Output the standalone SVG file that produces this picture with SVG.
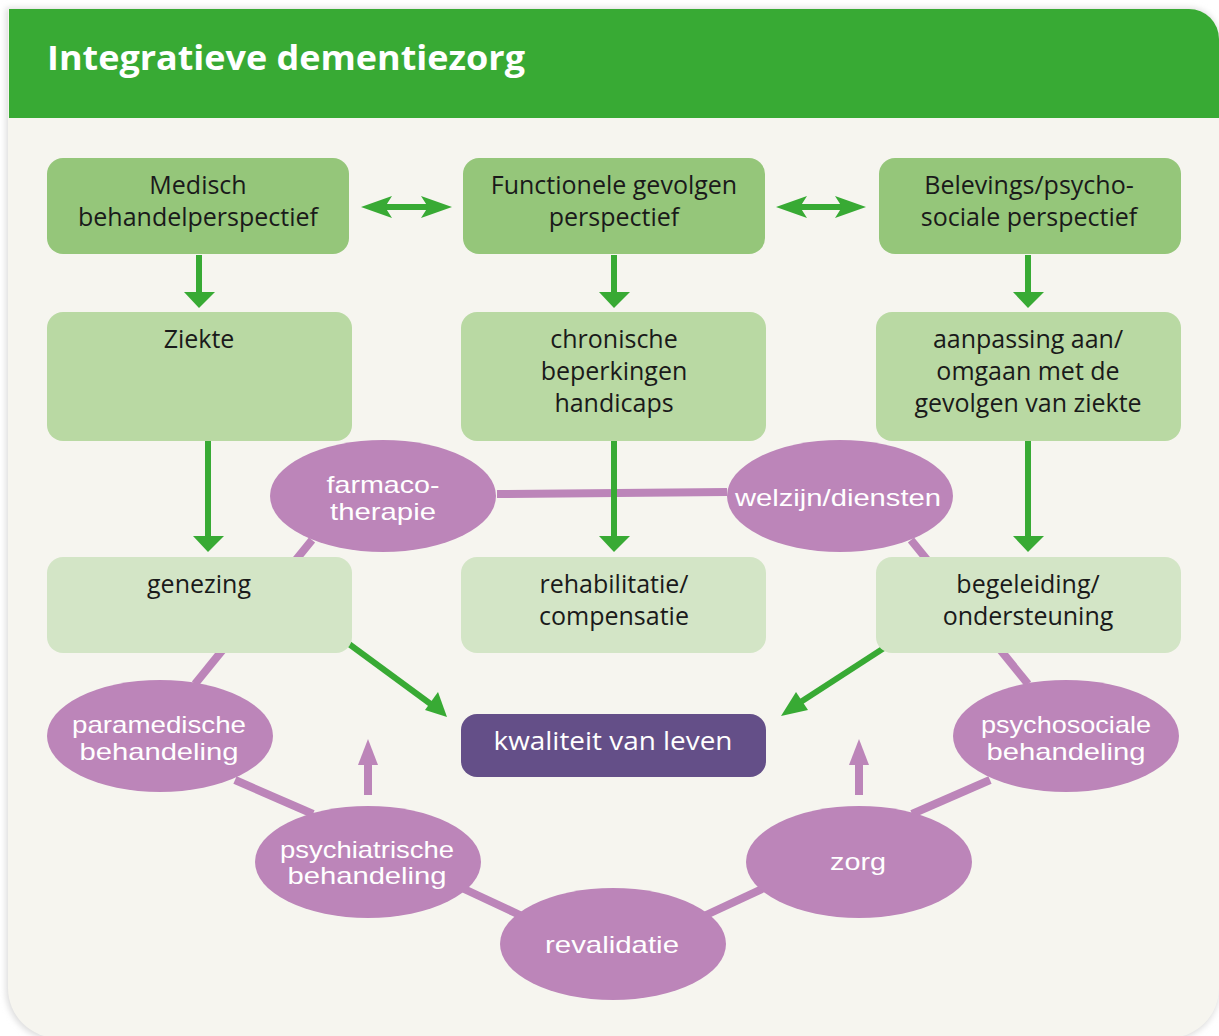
<svg xmlns="http://www.w3.org/2000/svg" width="1219" height="1036" viewBox="0 0 1219 1036">
<defs>
<style>
.b1{fill:#95c67a}
.b2{fill:#b9d9a3}
.b3{fill:#d3e5c6}
.el{fill:#bc85b9}
.bt{font-family:"Open Sans","Noto Sans",sans-serif;font-size:25px;fill:#1a1a1a;text-anchor:middle}
.et{font-family:"Liberation Sans",Arial,sans-serif;font-size:24px;fill:#ffffff;text-anchor:middle}
.kt{font-family:"Open Sans","Noto Sans",sans-serif;font-size:25px;fill:#ffffff;text-anchor:middle}
.pl{stroke:#bc85b9;stroke-width:8;fill:none}
.gs{stroke:#38aa34;stroke-width:6;fill:none}
.gh{fill:#38aa34}
.ph{fill:#bc85b9}
</style>
<filter id="sh" x="-5%" y="-5%" width="110%" height="110%">
<feGaussianBlur stdDeviation="3"/>
</filter>
</defs>
<rect x="0" y="0" width="1219" height="1036" fill="#ffffff"/>
<path d="M6,8 H1189 A30,30 0 0 1 1219,38 V990 A50,50 0 0 1 1169,1040 H58 A50,50 0 0 1 6,990 Z" fill="#dcdcdc" filter="url(#sh)"/>
<path d="M8,9 H1189 A30,30 0 0 1 1219,39 V988 A50,50 0 0 1 1169,1038 H58 A50,50 0 0 1 8,988 Z" fill="#f6f5ef"/>
<path d="M9,9 H1189 A30,30 0 0 1 1219,39 V118 H9 Z" fill="#38aa34"/>
<text x="47" y="70" font-family="'Open Sans','Noto Sans',sans-serif" font-size="34" font-weight="bold" fill="#ffffff" textLength="478" lengthAdjust="spacingAndGlyphs">Integratieve dementiezorg</text>

<g id="connectors">
<line class="pl" x1="497" y1="494" x2="727" y2="492"/>
<line class="pl" x1="312" y1="540" x2="195" y2="684"/>
<line class="pl" x1="911" y1="540" x2="1028" y2="684"/>
<line class="pl" x1="235" y1="780" x2="313" y2="814"/>
<line class="pl" x1="462" y1="888" x2="522" y2="916"/>
<line class="pl" x1="704" y1="916" x2="764" y2="888"/>
<line class="pl" x1="912" y1="814" x2="990" y2="780"/>
<line class="pl" x1="368" y1="795" x2="368" y2="760"/>
<polygon class="ph" points="368,739 358,765 378,765"/>
<line class="pl" x1="859" y1="795" x2="859" y2="760"/>
<polygon class="ph" points="859,739 849,765 869,765"/>

<line class="gs" x1="199" y1="255" x2="199" y2="294"/>
<polygon class="gh" points="184,292 215,292 199,308"/>
<line class="gs" x1="614" y1="255" x2="614" y2="294"/>
<polygon class="gh" points="599,292 630,292 614,308"/>
<line class="gs" x1="1028" y1="255" x2="1028" y2="294"/>
<polygon class="gh" points="1013,292 1044,292 1028,308"/>
<line class="gs" x1="208" y1="441" x2="208" y2="538"/>
<polygon class="gh" points="193,536 224,536 208,552"/>
<line class="gs" x1="614" y1="441" x2="614" y2="538"/>
<polygon class="gh" points="599,536 630,536 614,552"/>
<line class="gs" x1="1028" y1="441" x2="1028" y2="538"/>
<polygon class="gh" points="1013,536 1044,536 1028,552"/>

<line class="gs" x1="380" y1="207" x2="434" y2="207"/>
<polygon class="gh" points="361,207 392,196 385,207 392,218"/>
<polygon class="gh" points="452,207 421,196 428,207 421,218"/>
<line class="gs" x1="795" y1="207" x2="848" y2="207"/>
<polygon class="gh" points="776,207 807,196 800,207 807,218"/>
<polygon class="gh" points="866,207 835,196 842,207 835,218"/>

<line class="gs" x1="349" y1="644" x2="432" y2="705"/>
<polygon class="gh" points="447,717 438,692 425,710"/>
<line class="gs" x1="884" y1="648" x2="796" y2="705"/>
<polygon class="gh" points="781,716 796,692 808,710"/>
</g>

<g id="n-medisch"><rect class="b1" x="47" y="158" width="302" height="96" rx="16"/><text class="bt" x="198" y="194">Medisch</text><text class="bt" x="198" y="226">behandelperspectief</text></g>
<g id="n-functioneel"><rect class="b1" x="463" y="158" width="302" height="96" rx="16"/><text class="bt" x="614" y="194">Functionele gevolgen</text><text class="bt" x="614" y="226">perspectief</text></g>
<g id="n-belevings"><rect class="b1" x="879" y="158" width="302" height="96" rx="16"/><text class="bt" x="1029" y="194">Belevings/psycho-</text><text class="bt" x="1029" y="226">sociale perspectief</text></g>

<g id="n-ziekte"><rect class="b2" x="47" y="312" width="305" height="129" rx="16"/><text class="bt" x="199" y="348">Ziekte</text></g>
<g id="n-chronisch"><rect class="b2" x="461" y="312" width="305" height="129" rx="16"/><text class="bt" x="614" y="348">chronische</text><text class="bt" x="614" y="380">beperkingen</text><text class="bt" x="614" y="412">handicaps</text></g>
<g id="n-aanpassing"><rect class="b2" x="876" y="312" width="305" height="129" rx="16"/><text class="bt" x="1028" y="348">aanpassing aan/</text><text class="bt" x="1028" y="380">omgaan met de</text><text class="bt" x="1028" y="412">gevolgen van ziekte</text></g>

<g id="n-genezing"><rect class="b3" x="47" y="557" width="305" height="96" rx="16"/><text class="bt" x="199" y="593">genezing</text></g>
<g id="n-rehabilitatie"><rect class="b3" x="461" y="557" width="305" height="96" rx="16"/><text class="bt" x="614" y="593">rehabilitatie/</text><text class="bt" x="614" y="625">compensatie</text></g>
<g id="n-begeleiding"><rect class="b3" x="876" y="557" width="305" height="96" rx="16"/><text class="bt" x="1028" y="593">begeleiding/</text><text class="bt" x="1028" y="625">ondersteuning</text></g>

<g id="n-kwaliteit"><rect x="461" y="714" width="305" height="63" rx="16" fill="#644f88"/><text class="kt" x="613" y="750" textLength="239" lengthAdjust="spacingAndGlyphs">kwaliteit van leven</text></g>

<g id="n-farmaco"><ellipse class="el" cx="383" cy="496" rx="113" ry="56"/><text class="et" x="383" y="493" textLength="113" lengthAdjust="spacingAndGlyphs">farmaco-</text><text class="et" x="383" y="520" textLength="106" lengthAdjust="spacingAndGlyphs">therapie</text></g>
<g id="n-welzijn"><ellipse class="el" cx="840" cy="496" rx="113" ry="56"/><text class="et" x="838" y="506" textLength="206" lengthAdjust="spacingAndGlyphs">welzijn/diensten</text></g>
<g id="n-paramedisch"><ellipse class="el" cx="160" cy="736" rx="113" ry="56"/><text class="et" x="159" y="733" textLength="174" lengthAdjust="spacingAndGlyphs">paramedische</text><text class="et" x="159" y="760" textLength="159" lengthAdjust="spacingAndGlyphs">behandeling</text></g>
<g id="n-psychiatrisch"><ellipse class="el" cx="368" cy="862" rx="113" ry="56"/><text class="et" x="367" y="858" textLength="174" lengthAdjust="spacingAndGlyphs">psychiatrische</text><text class="et" x="367" y="884" textLength="159" lengthAdjust="spacingAndGlyphs">behandeling</text></g>
<g id="n-revalidatie"><ellipse class="el" cx="613" cy="944" rx="113" ry="56"/><text class="et" x="612" y="953" textLength="134" lengthAdjust="spacingAndGlyphs">revalidatie</text></g>
<g id="n-zorg"><ellipse class="el" cx="859" cy="862" rx="113" ry="56"/><text class="et" x="858" y="870" textLength="56" lengthAdjust="spacingAndGlyphs">zorg</text></g>
<g id="n-psychosociaal"><ellipse class="el" cx="1066" cy="736" rx="113" ry="56"/><text class="et" x="1066" y="733" textLength="170" lengthAdjust="spacingAndGlyphs">psychosociale</text><text class="et" x="1066" y="760" textLength="159" lengthAdjust="spacingAndGlyphs">behandeling</text></g>
</svg>
